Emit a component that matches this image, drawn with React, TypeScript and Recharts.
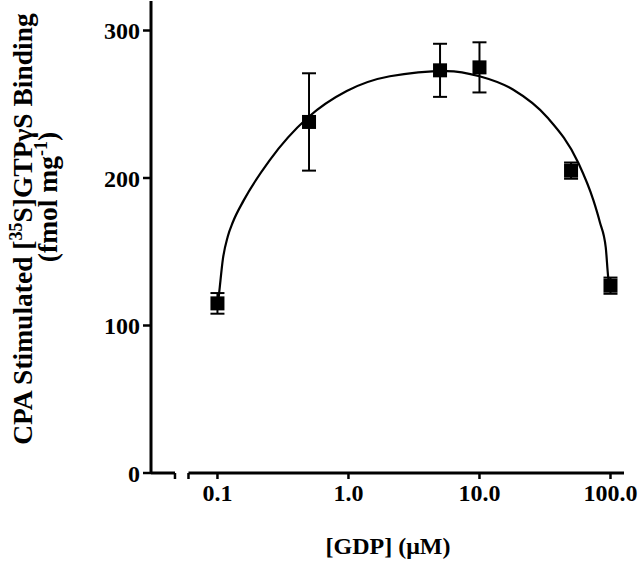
import { ComposedChart, Line, Scatter, ErrorBar, XAxis, YAxis, ReferenceLine } from "recharts";

// measured points: [GDP] (uM) vs binding (fmol/mg)
const gdpConc = [0.1, 0.5, 5, 10, 50, 100];
const binding = [115, 238, 273, 275, 205, 127];
const bindingErr = [7, 33, 18, 17, 5.5, 5.5];

// fitted curve
const fitConc = [0.1, 0.103, 0.11, 0.12, 0.131, 0.159, 0.25, 0.49, 0.97, 2.07, 5.6, 10, 18, 33, 57, 74, 83, 92, 96, 100];
const fitBinding = [112, 122, 145, 160.5, 170, 185, 212, 241, 259, 269, 272.5, 269, 260, 241, 210, 185, 170, 153, 133, 124];

const xTicks = [0.1, 1, 10, 100];
const xTickLabels = ["0.1", "1.0", "10.0", "100.0"];
const yTicks = [0, 100, 200, 300];

// axis break
const xMin = 0.0311;
const xMax = 126.8;
const breakStart = 0.0474;
const breakEnd = 0.0601;

const points = gdpConc.map((x, i) => ({ x, y: binding[i], err: bindingErr[i] }));
const fit = fitConc.map((x, i) => ({ x, y: fitBinding[i] }));

const font = "'Liberation Serif', 'Times New Roman', serif";

const Square = (props: any) => (
  <rect x={props.cx - 7} y={props.cy - 7} width={14} height={14} fill="#000" />
);

const YTitle = () => (
  <g fontFamily={font} fontWeight="bold" fontSize={27.5} fill="#000">
    <text transform="translate(32,229) rotate(-90)" textAnchor="middle">
      CPA Stimulated [<tspan dy={-10} fontSize={18}>35</tspan>
      <tspan dy={10}>S]GTPγS Binding</tspan>
    </text>
    <text transform="translate(57,197) rotate(-90)" textAnchor="middle">
      (fmol mg<tspan dy={-10} fontSize={18}>-1</tspan>
      <tspan dy={10}>)</tspan>
    </text>
  </g>
);

const XTitle = () => (
  <text x={388} y={554} textAnchor="middle" fontFamily={font} fontWeight="bold" fontSize={24} fill="#000">
    [GDP] (μM)
  </text>
);

export default function App() {
  return (
    <div style={{ position: "absolute", left: 0, top: 0, background: "#fff" }}>
      <ComposedChart width={640} height={562} margin={{ top: 1, right: 16, bottom: 0, left: 0 }}>
        <XAxis
          dataKey="x"
          type="number"
          scale="log"
          domain={[xMin, xMax]}
          allowDataOverflow
          ticks={[breakStart, breakEnd, ...xTicks]}
          tickFormatter={(v: number) => {
            const i = xTicks.indexOf(v);
            return i >= 0 ? xTickLabels[i] : "";
          }}
          axisLine={false}
          tickLine={{ stroke: "#000", strokeWidth: 2.5 }}
          tickSize={6}
          tickMargin={5}
          height={89}
          interval={0}
          tick={{ fill: "#000", fontFamily: font, fontWeight: "bold", fontSize: 24 }}
          label={{ content: () => <XTitle /> }}
        />
        <YAxis
          type="number"
          domain={[0, 320]}
          ticks={yTicks}
          width={151}
          axisLine={{ stroke: "#000", strokeWidth: 3 }}
          tickLine={{ stroke: "#000", strokeWidth: 2.5 }}
          tickSize={8}
          tickMargin={3}
          interval={0}
          tick={{ fill: "#000", fontFamily: font, fontWeight: "bold", fontSize: 24 }}
          label={{ content: () => <YTitle /> }}
        />
        <ReferenceLine segment={[{ x: xMin, y: 0 }, { x: breakStart, y: 0 }]} stroke="#000" strokeWidth={3} />
        <ReferenceLine segment={[{ x: breakEnd, y: 0 }, { x: xMax, y: 0 }]} stroke="#000" strokeWidth={3} />
        <Line
          data={fit}
          dataKey="y"
          type="monotone"
          stroke="#000"
          strokeWidth={2.2}
          dot={false}
          activeDot={false}
          isAnimationActive={false}
        />
        <Scatter data={points} dataKey="y" shape={Square} isAnimationActive={false}>
          <ErrorBar dataKey="err" direction="y" width={7} stroke="#000" strokeWidth={2} />
        </Scatter>
      </ComposedChart>
    </div>
  );
}
